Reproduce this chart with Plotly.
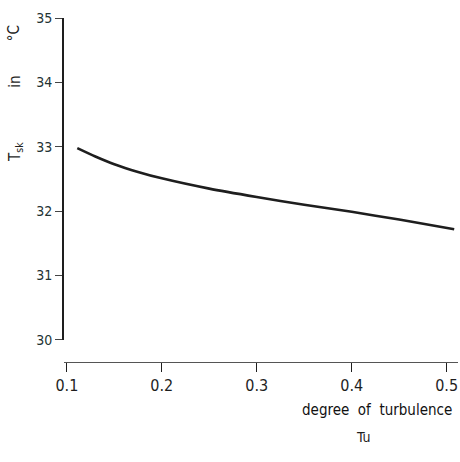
import plotly.graph_objects as go

# Skin temperature versus degree of turbulence
tu = [0.111, 0.13, 0.15, 0.175, 0.2, 0.25, 0.3, 0.35, 0.4, 0.45, 0.508]
t_sk = [32.98, 32.85, 32.73, 32.61, 32.51, 32.35, 32.22, 32.1, 31.99, 31.87, 31.72]

x_ticks = [0.1, 0.2, 0.3, 0.4, 0.5]
x_tick_text = ["0.1", "0.2", "0.3", "0.4", "0.5"]
y_ticks = [30, 31, 32, 33, 34, 35]
y_tick_text = ["30", "31", "32", "33", "34", "35"]

FONT = "DejaVu Sans Condensed, Liberation Sans Narrow, sans-serif"
INK = "#1e1e1e"

fig = go.Figure()
fig.add_trace(go.Scatter(
    x=tu, y=t_sk, mode="lines",
    line=dict(color=INK, width=2.6, shape="spline", smoothing=0.6),
    hoverinfo="skip", showlegend=False,
))


def side_label(text, y):
    # pieces of the rotated y-axis title, spaced out along the axis
    return dict(text=text, textangle=-90,
                xref="paper", yref="paper", x=-0.125, y=y,
                xanchor="center", yanchor="middle", showarrow=False,
                font=dict(size=15, family=FONT, color=INK))


fig.update_layout(
    width=460, height=462,
    margin=dict(l=64, r=2, t=18, b=100),
    paper_bgcolor="white", plot_bgcolor="white",
    font=dict(family=FONT, color=INK, size=14),
    xaxis=dict(
        range=[0.097, 0.512], anchor="free", position=0,
        tickvals=x_ticks, ticktext=x_tick_text,
        showline=True, linecolor="#555", linewidth=1.2,
        ticks="outside", ticklen=9, tickwidth=1.4, tickcolor=INK,
        showgrid=False, zeroline=False,
        tickfont=dict(size=16, family=FONT, color=INK),
    ),
    yaxis=dict(
        range=[30, 35], domain=[0.064, 1],
        tickvals=y_ticks, ticktext=y_tick_text,
        showline=True, linecolor=INK, linewidth=1.6,
        ticks="outside", ticklen=7, tickwidth=1.2, tickcolor="#444",
        showgrid=False, zeroline=False,
        tickfont=dict(size=14, family=FONT, color="#233"),
    ),
    annotations=[
        side_label("T<sub>sk</sub>", 0.61),
        side_label("in", 0.814),
        side_label("°C", 0.955),
        dict(text="degree  of  turbulence",
             xref="paper", yref="paper", x=0.99, y=-0.14,
             xanchor="right", yanchor="middle", showarrow=False,
             font=dict(size=15, family=FONT, color="#111")),
        dict(text="Tu",
             xref="paper", yref="paper", x=0.76, y=-0.218,
             xanchor="center", yanchor="middle", showarrow=False,
             font=dict(size=14, family=FONT, color=INK)),
    ],
)

fig.write_html("out.html")
